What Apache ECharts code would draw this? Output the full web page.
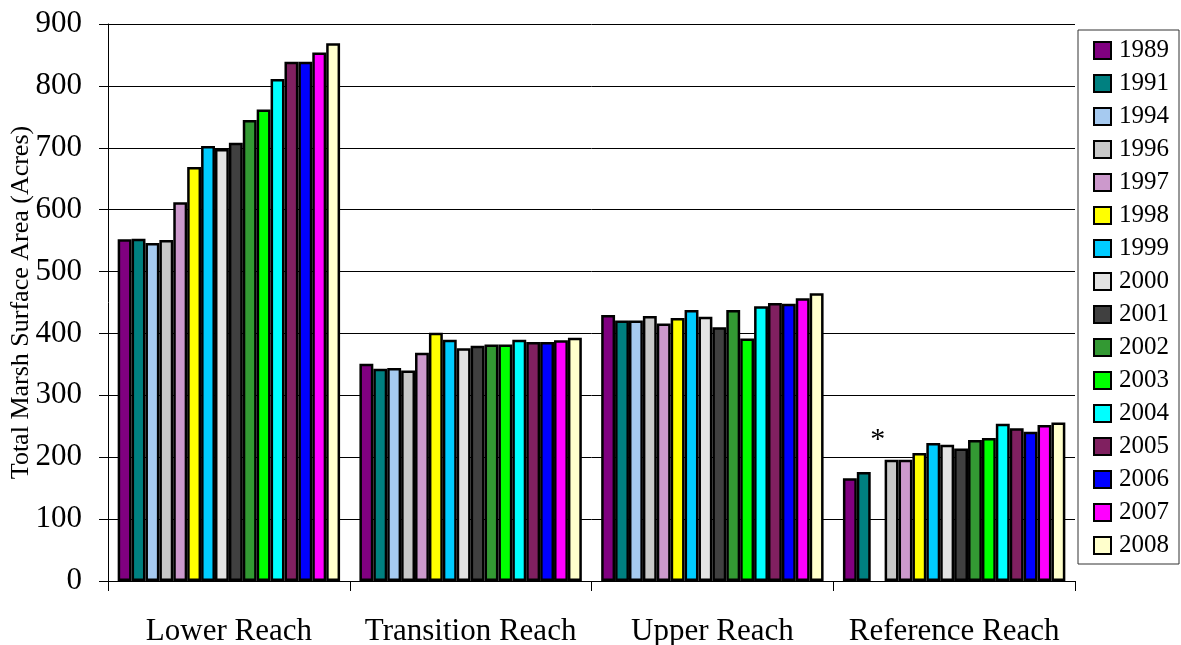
<!DOCTYPE html>
<html>
<head>
<meta charset="utf-8">
<script src="https://cdn.jsdelivr.net/npm/echarts@6/dist/echarts.min.js"></script>
<style>
	html, body { margin: 0; padding: 0; background: #fff; }
	#chart { width: 1181px; height: 645px; }
</style>
</head>
<body>
<div id="chart"></div>
<script>
// 分组 (x轴)
var reaches = ['Lower Reach', 'Transition Reach', 'Upper Reach', 'Reference Reach']

// 年份 (图例)
var years = ['1989', '1991', '1994', '1996', '1997', '1998', '1999', '2000',
	'2001', '2002', '2003', '2004', '2005', '2006', '2007', '2008']

// 每组数据, 顺序与 years 对应
var lowerReach = [552, 553, 546, 551, 612, 669, 703, 698, 708, 745, 762, 811, 839, 839, 854, 869]
var transitionReach = [351, 343, 344, 340, 369, 401, 390, 376, 380, 382, 382, 390, 386, 386, 389, 393]
var upperReach = [430, 421, 421, 428, 416, 425, 438, 427, 410, 438, 392, 444, 449, 448, 457, 465]
// 1994 无数据 (星号)
var referenceReach = [166, 176, null, 196, 196, 207, 223, 220, 214, 228, 231, 254, 247, 241, 252, 256]

var yearColors = ['#800080', '#008080', '#A6CAF0', '#C8C8C8', '#CC99CC', '#FFFF00',
	'#00CCFF', '#E3E3E3', '#404040', '#339933', '#00FF00', '#00FFFF',
	'#802060', '#0000FF', '#FF00FF', '#FFFFCC']

var serif = '"Liberation Serif", "DejaVu Serif", serif'

var chart = echarts.init(document.getElementById('chart'))

var series = years.map(function (y, i) {
	var s = {
		name: y,
		type: 'bar',
		barGap: '0%',
		barCategoryGap: '8%',
		itemStyle: {
			color: yearColors[i],
			borderColor: '#000',
			borderWidth: 2.5
		},
		data: [lowerReach[i], transitionReach[i], upperReach[i], referenceReach[i]]
	}
	if (y === '1994') {
		// 星号标注
		s.markPoint = {
			symbol: 'circle',
			symbolSize: 1,
			itemStyle: { color: 'transparent', borderWidth: 0 },
			label: {
				show: true,
				position: 'inside',
				formatter: '*',
				color: '#000',
				fontSize: 30,
				fontFamily: serif
			},
			data: [{ coord: ['Reference Reach', 228] }]
		}
	}
	return s
})

var option = {
	animation: false,
	grid: { left: 108, top: 24, right: 106, bottom: 64, outerBoundsMode: 'none', containLabel: false },
	legend: {
		orient: 'vertical',
		left: 1078,
		top: 30,
		padding: [8, 10, 6, 15],
		itemGap: 8,
		itemWidth: 17,
		itemHeight: 17,
		icon: 'rect',
		borderColor: '#333',
		borderWidth: 1,
		textStyle: { fontFamily: serif, fontSize: 25, color: '#000', lineHeight: 25, padding: [0, 0, 0, 3] },
		data: years
	},
	xAxis: {
		type: 'category',
		data: reaches,
		axisLine: { lineStyle: { color: '#000', width: 1 } },
		axisTick: { show: true, length: 10, inside: false, lineStyle: { color: '#000' } },
		axisLabel: { color: '#000', fontSize: 31, fontFamily: serif, margin: 35, interval: 0 }
	},
	yAxis: {
		type: 'value',
		min: 0,
		max: 900,
		interval: 100,
		name: 'Total Marsh Surface Area (Acres)',
		nameLocation: 'middle',
		nameMoveOverlap: false,
		nameGap: 74,
		nameTextStyle: { color: '#000', fontSize: 26, fontFamily: serif },
		axisLine: { show: true, lineStyle: { color: '#000', width: 1 } },
		axisTick: { show: true, length: 9, lineStyle: { color: '#000' } },
		axisLabel: { color: '#000', fontSize: 31, fontFamily: serif, margin: 26 },
		splitLine: { lineStyle: { color: '#000', width: 1 } }
	},
	series: series
}
chart.setOption(option)
</script>
</body>
</html>
